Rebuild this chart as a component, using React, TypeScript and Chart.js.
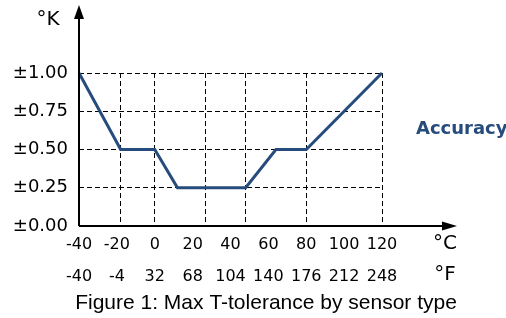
import React, { useEffect, useRef } from "react";
import { Chart, registerables } from "chart.js";

Chart.register(...registerables);

// ---- data ----
const tempC = [-40, -18, 0, 12, 48, 64, 80, 120];
const tolerance = [1.0, 0.5, 0.5, 0.25, 0.25, 0.5, 0.5, 1.0];
const tickC = [-40, -20, 0, 20, 40, 60, 80, 100, 120];
const tickF = [-40, -4, 32, 68, 104, 140, 176, 212, 248];
const gridC = [-18, 0, 27, 48, 80, 120];
const tickK = [0, 0.25, 0.5, 0.75, 1.0];
const seriesLabel = "Accuracy";
const yUnit = "°K";
const xUnitC = "°C";
const xUnitF = "°F";
const figureTitle = "Figure 1: Max T-tolerance by sensor type";

const LINE_COLOR = "#264c7e";
const SANS = "'DejaVu Sans', Verdana, sans-serif";

const decorPlugin = {
  id: "decor",
  afterDraw(chart: any) {
    const { ctx, chartArea } = chart;
    const { left, right, top, bottom } = chartArea;
    ctx.save();
    // axes
    ctx.strokeStyle = "#000";
    ctx.fillStyle = "#000";
    ctx.lineWidth = 2;
    ctx.beginPath();
    ctx.moveTo(left, bottom);
    ctx.lineTo(left, top - 55);
    ctx.moveTo(left, bottom);
    ctx.lineTo(right + 62, bottom);
    ctx.stroke();
    // y arrow
    ctx.beginPath();
    ctx.moveTo(left, top - 68);
    ctx.lineTo(left - 5, top - 54);
    ctx.lineTo(left + 5, top - 54);
    ctx.closePath();
    ctx.fill();
    // x arrow
    ctx.beginPath();
    ctx.moveTo(right + 75, bottom);
    ctx.lineTo(right + 60, bottom - 4.5);
    ctx.lineTo(right + 60, bottom + 4.5);
    ctx.closePath();
    ctx.fill();

    ctx.textBaseline = "middle";
    ctx.textAlign = "center";
    ctx.font = `20px ${SANS}`;
    ctx.fillText(yUnit, left - 31, top - 53);
    ctx.fillText(xUnitC, right + 63, bottom + 18);
    ctx.fillText(xUnitF, right + 63, bottom + 49);

    ctx.textAlign = "left";
    ctx.fillStyle = LINE_COLOR;
    ctx.font = `bold 18px ${SANS}`;
    ctx.fillText(seriesLabel, right + 34, top + 56);

    ctx.textAlign = "center";
    ctx.fillStyle = "#000";
    ctx.font = `21px 'Liberation Sans', Arial, sans-serif`;
    ctx.fillText(figureTitle, left + 187, bottom + 77);
    ctx.restore();
  },
};

export default function App() {
  const ref = useRef<HTMLCanvasElement | null>(null);

  useEffect(() => {
    if (!ref.current) return;
    const chart = new Chart(ref.current, {
      type: "line",
      data: {
        datasets: [
          {
            label: seriesLabel,
            data: tempC.map((c, i) => ({ x: c, y: tolerance[i] })),
            borderColor: LINE_COLOR,
            borderWidth: 3,
            pointRadius: 0,
            tension: 0,
            fill: false,
            clip: false as any,
            xAxisID: "x",
            yAxisID: "y",
          },
        ],
      },
      options: {
        responsive: false,
        animation: false,
        devicePixelRatio: 1,
        layout: { padding: { top: 73, right: 124, left: 0, bottom: 0 } },
        plugins: {
          legend: { display: false },
          title: { display: false },
          tooltip: { enabled: false },
        },
        scales: {
          x: {
            type: "linear",
            position: "bottom",
            min: -40,
            max: 120,
            afterBuildTicks: (s: any) => {
              s.ticks = tickC.map((v) => ({ value: v }));
            },
            afterFit: (s: any) => {
              s.height = 92;
            },
            grid: { display: false, drawTicks: false },
            border: { display: false },
            ticks: {
              autoSkip: false,
              maxRotation: 0,
              padding: 3,
              color: "#000",
              font: { family: SANS, size: 16, lineHeight: 2 },
              callback: (v: any) => {
                const i = tickC.indexOf(Number(v));
                return [String(tickC[i]), String(tickF[i])];
              },
            },
          },
          xg: {
            type: "linear",
            position: "bottom",
            min: -40,
            max: 120,
            afterBuildTicks: (s: any) => {
              s.ticks = gridC.map((v) => ({ value: v }));
            },
            afterFit: (s: any) => {
              s.height = 0;
            },
            grid: { display: true, drawTicks: false, color: "#000", lineWidth: 1 },
            border: { display: false, dash: [5, 3] },
            ticks: { display: false },
          },
          y: {
            type: "linear",
            min: 0,
            max: 1,
            afterBuildTicks: (s: any) => {
              s.ticks = tickK.map((v) => ({ value: v }));
            },
            afterFit: (s: any) => {
              s.width = 79;
            },
            grid: {
              display: true,
              drawTicks: false,
              lineWidth: 1,
              color: (c: any) => (c.tick && c.tick.value === 0 ? "rgba(0,0,0,0)" : "#000"),
            },
            border: { display: false, dash: [5, 3] },
            ticks: {
              padding: 11,
              color: "#000",
              font: { family: SANS, size: 18 },
              callback: (v: any) => "±" + Number(v).toFixed(2),
            },
          },
        },
      } as any,
      plugins: [decorPlugin],
    });
    return () => chart.destroy();
  }, []);

  return (
    <div style={{ position: "absolute", left: 0, top: 0, width: 506, height: 318, background: "#fff" }}>
      <canvas ref={ref} width={506} height={318} style={{ display: "block" }} />
    </div>
  );
}
